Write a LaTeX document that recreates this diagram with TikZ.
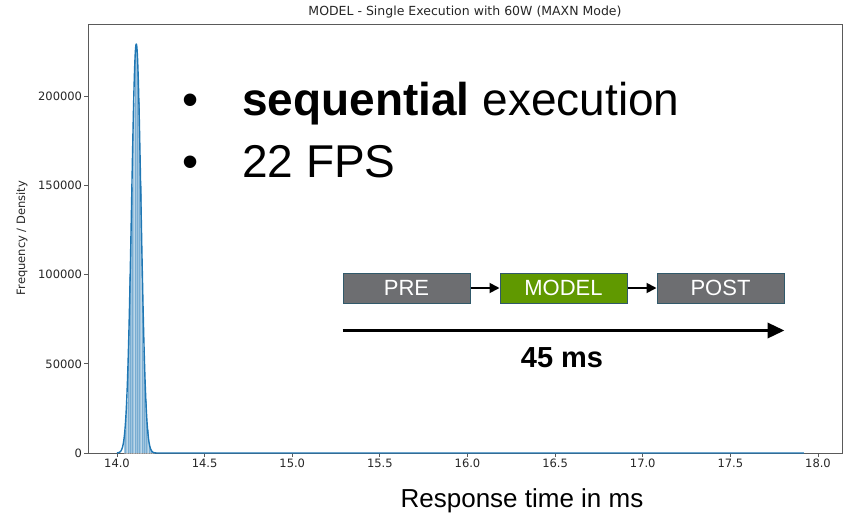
\documentclass[tikz,border=0pt]{standalone}
\usepackage{fontspec}
\setmainfont{Liberation Sans}
\newfontfamily\plotfont{DejaVu Sans}
\usetikzlibrary{arrows.meta,positioning}
\definecolor{boxgray}{RGB}{109,110,113}
\definecolor{boxgreen}{RGB}{96,153,0}
\definecolor{boxedge}{RGB}{49,89,106}
\definecolor{mplblue}{RGB}{31,119,180}
\definecolor{spine}{RGB}{90,90,90}

\begin{document}
\begin{tikzpicture}[
    x=1pt, y=-1pt,
    >={Triangle[length=10pt,width=10pt]},
    stage/.style={
		rectangle,
		draw=boxedge,
		line width=1pt,
		fill=boxgray,
		text=white,
		minimum width=127pt,
		minimum height=30pt,
		inner sep=0pt,
		font=\fontsize{22}{22}\selectfont
	},
	ticklabel/.style={
		font=\plotfont\fontsize{11.5}{11.5}\selectfont,
		text=black!85,
		inner sep=1.5pt
	},
	bigtext/.style={
		anchor=base west,
		inner sep=0pt,
		font=\fontsize{46}{46}\selectfont
	}
  ]
\useasboundingbox (0,0) rectangle (845,517);

% // axes frame, title and ticks
\draw [spine, line width=1pt] (88,24) rectangle (842,453);
\node [ticklabel, font=\plotfont\fontsize{12.5}{12.5}\selectfont] (title) at (465,12) {MODEL - Single Execution with 60W (MAXN Mode)};
\node [ticklabel, rotate=90] (ylabel) at (22,238) {Frequency / Density};

\foreach \v [count=\i from 0] in {0,50000,100000,150000,200000}
  \draw [spine, line width=0.9pt] (88,{453-\i*89.1}) -- ++(-4,0) node [ticklabel, anchor=east] {\v};
\foreach \v [count=\i from 0] in {14.0,14.5,15.0,15.5,16.0,16.5,17.0,17.5,18.0}
  \draw [spine, line width=0.9pt] ({117+\i*87.625},453) -- ++(0,4) node [ticklabel, anchor=north] {\v};

% // histogram and density curve
\begin{scope}[shift={(-2336.5,453)}, x=175.25pt, y=1.782pt]
  \foreach \b in {14.045,14.055,...,14.21}
    \path [fill=mplblue, fill opacity=.6, draw=white, draw opacity=.3, line width=.2pt]
      ({\b-0.005},0) rectangle ({\b+0.005},{229.5*exp(-0.5*((\b-14.11)/0.027)^2)});
  \draw [mplblue, line width=1.4pt, line join=round]
    plot [domain=14.0:14.25, samples=150, smooth] (\x,{229.5*exp(-0.5*((\x-14.11)/0.027)^2)}) -- (17.92,0);
\end{scope}

% // bullet text
\node [bigtext, anchor=base] (dot1) at (191,115) {•};
\node [bigtext] (line1) at (242,115) {\textbf{sequential} execution};
\node [bigtext, anchor=base] (dot2) at (191,177) {•};
\node [bigtext] (line2) at (242,177) {22 FPS};

% // pipeline
\node [stage] (pre) at (406.5,288) {PRE};
\node [stage, fill=boxgreen, right=29pt of pre] (model) {MODEL};
\node [stage, right=29pt of model] (post) {POST};

\draw [->, line width=1.8pt] (pre) -- (model);
\draw [->, line width=1.8pt] (model) -- (post);

\coordinate (tstart) at ([yshift=-27pt]pre.south west);
\coordinate (tend) at ([yshift=-27pt]post.south east);
\draw [line width=3.5pt, -{Triangle[length=17pt,width=15pt]}] (tstart) -- (tend);
\node [anchor=base, inner sep=0pt, font=\bfseries\fontsize{29}{29}\selectfont] (duration) at (562,367) {45 ms};

\node [anchor=base, inner sep=0pt, font=\fontsize{26}{26}\selectfont] (xlabel) at (522,507) {Response time in ms};

\end{tikzpicture}
\end{document}
